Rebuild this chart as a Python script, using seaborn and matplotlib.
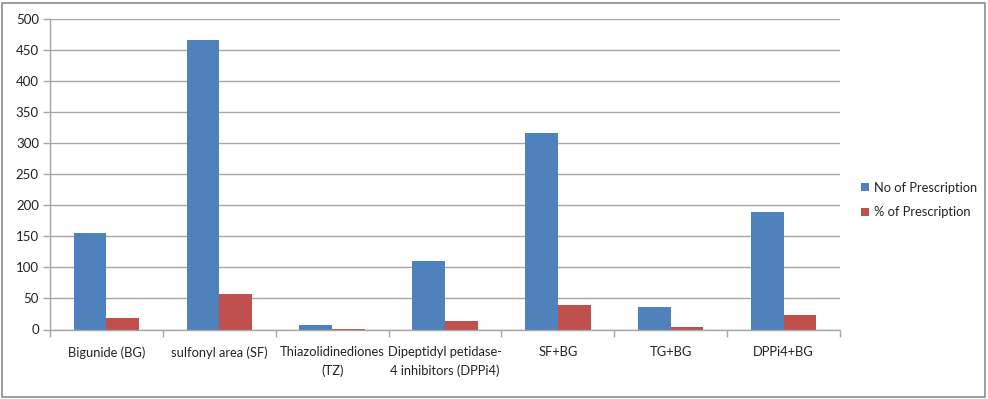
import matplotlib
matplotlib.use("Agg")
import matplotlib.pyplot as plt
import seaborn as sns
import pandas as pd
from matplotlib.patches import Rectangle
from matplotlib.ticker import FixedLocator, MultipleLocator

categories = ["Bigunide (BG)", "sulfonyl area (SF)", "Thiazolidinediones\n(TZ)",
              "Dipeptidyl petidase-\n4 inhibitors (DPPi4)", "SF+BG", "TG+BG", "DPPi4+BG"]
series_names = ["No of Prescription", "% of Prescription"]
no_of_prescription = [156, 466, 7, 111, 317, 36, 189]
pct_of_prescription = [19, 56.8, 0.3, 13.5, 38.7, 4.4, 23]
colors = ["#4F81BD", "#C0504D"]

df = pd.DataFrame({
    "category": categories * 2,
    "series": [series_names[0]] * len(categories) + [series_names[1]] * len(categories),
    "value": no_of_prescription + pct_of_prescription,
})

sns.set_theme(style="white")
plt.rcParams["font.family"] = ["Lato", "DejaVu Sans"]

fig = plt.figure(figsize=(9.88, 3.99), dpi=100)
ax = fig.add_axes([50 / 988, 1 - 329.5 / 399, 790 / 988, 310.5 / 399])

sns.barplot(data=df, x="category", y="value", hue="series", order=categories,
            hue_order=series_names, palette=colors, saturation=1, width=0.58,
            ax=ax, edgecolor="none", legend=True)

ax.set_xlim(-0.5, len(categories) - 0.5)
ax.set_ylim(0, 500)
ax.yaxis.set_major_locator(MultipleLocator(50))
ax.grid(axis="y", color="#a6a6a6", linewidth=1)
ax.set_axisbelow(True)
ax.set_xlabel("")
ax.set_ylabel("")

for side in ["top", "right"]:
    ax.spines[side].set_visible(False)
for side in ["left", "bottom"]:
    ax.spines[side].set_color("#a6a6a6")
    ax.spines[side].set_linewidth(1)
    ax.spines[side].set_zorder(5)

ax.set_xticks(range(len(categories)), labels=categories, ha="center",
              multialignment="center", linespacing=1.6)
ax.tick_params(axis="y", which="major", length=5, color="#a6a6a6", width=1,
               labelsize=9.5, labelcolor="#222222", pad=3, left=True)
ax.tick_params(axis="x", which="major", length=0, labelsize=9.3, labelcolor="#222222", pad=12)
ax.xaxis.set_minor_locator(FixedLocator([i - 0.5 for i in range(len(categories) + 1)]))
ax.tick_params(axis="x", which="minor", length=5, color="#a6a6a6", width=1, bottom=True)

leg = ax.legend(loc="center left", bbox_to_anchor=(856 / 988, 199 / 399),
                bbox_transform=fig.transFigure, frameon=False, fontsize=9.3,
                handlelength=0.6, handleheight=0.6, handletextpad=0.4,
                labelspacing=1.0, borderaxespad=0)
for t in leg.get_texts():
    t.set_color("#222222")

fig.patches.append(Rectangle((2 / 988, 2 / 399), 983 / 988, 394 / 399,
                             transform=fig.transFigure, fill=False,
                             edgecolor="#8c8c8c", linewidth=1.2, zorder=10))

fig.savefig("out.png", dpi=100)
